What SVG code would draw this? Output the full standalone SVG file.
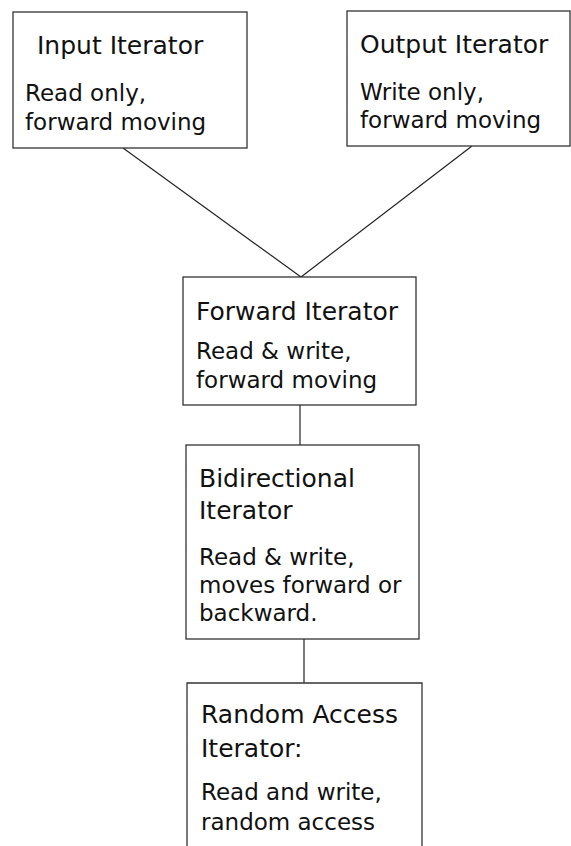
<svg xmlns="http://www.w3.org/2000/svg" width="571" height="846" viewBox="0 0 571 846">
<style>
.box{fill:#fff;stroke:#333;stroke-width:1.3}
.t{font-family:"DejaVu Sans",sans-serif;fill:#111;font-size:25px}
.b{font-family:"DejaVu Sans",sans-serif;fill:#111;font-size:23px}
.c{stroke:#222;stroke-width:1.2;fill:none}
</style>
<rect width="571" height="846" fill="#fff"/>
<g id="connectors">
<line class="c" x1="123" y1="148" x2="301" y2="277"/>
<line class="c" x1="472" y1="146" x2="301" y2="277"/>
<line class="c" x1="300" y1="405" x2="300" y2="445"/>
<line class="c" x1="304" y1="639" x2="304" y2="683"/>
</g>
<g id="input">
<rect class="box" x="13" y="12" width="234" height="136"/>
<text class="t" x="37" y="54">Input Iterator</text>
<text class="b" x="25" y="101">Read only,</text>
<text class="b" x="25" y="130">forward moving</text>
</g>
<g id="output">
<rect class="box" x="347" y="11" width="223" height="135"/>
<text class="t" x="360" y="53">Output Iterator</text>
<text class="b" x="360" y="100">Write only,</text>
<text class="b" x="360" y="128">forward moving</text>
</g>
<g id="forward">
<rect class="box" x="183" y="277" width="233" height="128"/>
<text class="t" x="196" y="320">Forward Iterator</text>
<text class="b" x="196" y="359">Read &amp; write,</text>
<text class="b" x="196" y="388">forward moving</text>
</g>
<g id="bidirectional">
<rect class="box" x="186" y="445" width="233" height="194"/>
<text class="t" x="199" y="487">Bidirectional</text>
<text class="t" x="199" y="519">Iterator</text>
<text class="b" x="199" y="565">Read &amp; write,</text>
<text class="b" x="199" y="593">moves forward or</text>
<text class="b" x="199" y="621">backward.</text>
</g>
<g id="random">
<path class="box" d="M187 850 V683 H422 V850"/>
<text class="t" x="201" y="723">Random Access</text>
<text class="t" x="201" y="757">Iterator:</text>
<text class="b" x="201" y="800">Read and write,</text>
<text class="b" x="201" y="830">random access</text>
</g>
</svg>
